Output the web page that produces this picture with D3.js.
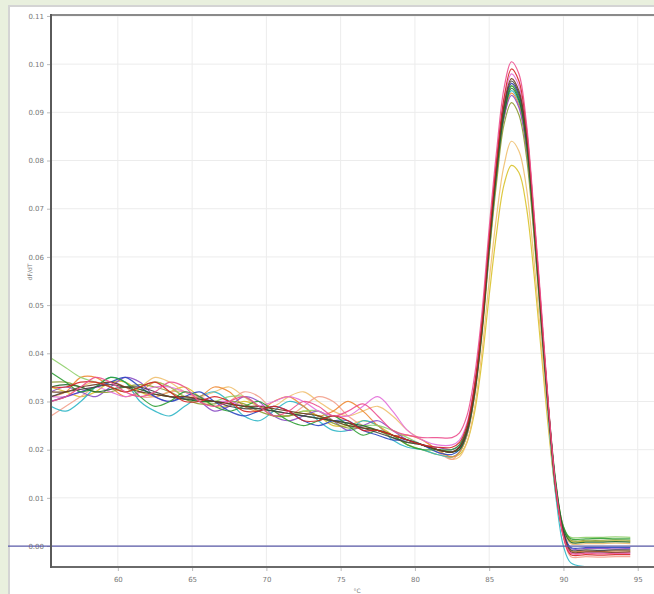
<!DOCTYPE html>
<html>
<head>
<meta charset="utf-8">
<script src="https://cdn.jsdelivr.net/npm/d3@7"></script>
<style>
  body { margin: 0; background: #e9f0de; }
  svg { display: block; }
  .tick text { font-family: "DejaVu Sans", sans-serif; font-size: 7px; fill: #777; }
</style>
</head>
<body>
<svg id="mainChart" width="654" height="594"></svg>
<script>
// temperature points (°C)
var temps = [55.5, 56.5, 57.5, 58.5, 59.5, 60.5, 61.5, 62.5, 63.5, 64.5, 65.5, 66.5, 67.5, 68.5,
  69.5, 70.5, 71.5, 72.5, 73.5, 74.5, 75.5, 76.5, 77.5, 78.5, 79.5, 80.5, 81.5, 82.5,
  83, 83.5, 84, 84.5, 85, 85.5, 86, 86.5, 87, 87.5, 88, 88.5, 89, 89.5, 90, 90.5,
  91.5, 92.5, 93.5, 94.5];

// -dF/dT per sample, in thousandths
var pink = [30, 31, 33, 35, 34, 32, 31, 32, 34, 33, 30, 29, 30, 31, 29, 27, 28, 30, 29, 27, 28, 29.5, 27, 24, 23, 22.5, 22.5, 22.5,
  23.5, 27, 35, 48, 66, 82, 95, 100.5, 98, 88, 70, 50, 29, 12, 2, -1.5, -1.5, -1.6, -1.5, -1.5];
var red = [33, 33, 34, 34, 33, 32, 33, 34, 32, 30, 30, 31, 30, 28, 28, 29, 28, 26, 26, 27, 26, 24, 24, 23, 22, 21, 20.5, 20.5,
  21.5, 25, 33, 46, 64, 80, 93, 99, 96.5, 87, 69, 49, 28.5, 11.5, 2, -1.8, -1.8, -1.9, -1.8, -1.8];
var brown = [32, 32, 33, 33.5, 34, 33, 32, 31.5, 31, 31, 30.5, 30, 29.5, 29, 29, 28.5, 28, 27.5, 27, 26, 25, 24.5, 24, 23, 22, 21, 20, 19.5,
  20.5, 24, 32, 45, 63, 79, 91.5, 97, 94.5, 85.5, 68, 48, 28, 11.5, 2.5, -1.2, -1.2, -1.2, -1.3, -1.2];
var darkGray = [31, 32, 32.5, 33, 33.5, 33, 33, 32, 31, 30.5, 30.5, 30, 29, 28.5, 28.5, 28, 27.5, 27, 26.5, 26, 25.5, 24.5, 23.5, 22.5, 21.5, 21, 20, 19.5,
  20.5, 24, 32, 45, 63, 79, 91, 96.5, 94, 85, 68, 48, 28, 12, 3, -0.8, -0.8, -0.9, -0.8, -0.8];
var blue = [30, 31, 32, 33, 34, 35, 33, 31, 30, 31, 32, 30, 28, 27, 28, 29, 28, 26, 25, 26, 26, 24, 23, 22, 22, 21, 19.5, 19,
  20, 23.5, 31.5, 44.5, 62, 78, 90.5, 96, 93.5, 84.5, 67.5, 47.5, 28, 12, 3, -0.3, -0.3, -0.3, -0.3, -0.3];
var green = [36, 34, 32, 33, 35, 34, 31, 29, 30, 32, 31, 29, 28, 29, 30, 28, 26, 25, 26, 27, 25, 23, 24, 23, 21, 20, 20, 20,
  21, 24.5, 32.5, 45.5, 63, 78.5, 90, 95.5, 93, 84, 67, 47.5, 28.5, 13, 4, 1.5, 1.5, 1.6, 1.5, 1.5];
var darkGreen = [33, 33.5, 33, 32, 32.5, 33, 32.5, 31.5, 31, 30.5, 30, 30, 29.5, 29, 28.5, 28, 27.5, 27, 26.5, 26, 25.5, 25, 24, 23, 22, 21, 20, 19.5,
  20, 23.5, 31.5, 44.5, 62, 77.5, 89.5, 95, 92.5, 84, 67, 47.5, 28, 12.5, 3.5, 0.8, 0.8, 0.8, 0.9, 0.8];
var teal = [29, 28, 30, 33, 35, 34, 30, 28, 27, 29, 31, 32, 30, 27, 26, 28, 30, 29, 26, 24, 24, 26, 25, 22, 20.5, 20, 19, 18.5,
  19.5, 23, 31, 44, 61, 77, 89, 94.5, 92, 83, 66, 46, 26, 10, 0, -3.5, -4.3, -4.4, -4.4, -4.3];
var orange = [31, 32, 35, 35, 33, 31, 32, 34, 33, 31, 31, 33, 32, 29, 28, 30, 31, 29, 27, 28, 30, 28, 25, 23, 23, 22, 20, 18.5,
  19.5, 23, 31, 44, 61, 77, 89, 94, 91.5, 83, 66.5, 47, 27.5, 11.5, 2.5, -1, -1, -1.1, -1, -1];
var purple = [32, 33, 32, 31, 33, 35, 34, 31, 30, 31, 30, 28, 29, 31, 30, 27, 26, 27, 28, 26, 24, 25, 26, 24, 22, 21, 20.5, 20,
  21, 24.5, 32, 44.5, 62, 77, 89, 93.5, 91, 82.5, 66, 46.5, 27.5, 12, 3, -0.5, -0.5, -0.5, -0.6, -0.5];
var olive = [34, 34, 33, 32, 32, 33, 33.5, 33, 32, 30.5, 29.5, 29.5, 30, 29.5, 28, 27, 27, 27.5, 27, 25.5, 24.5, 24.5, 24, 22.5, 21.5, 21, 20, 19.5,
  20.5, 23.5, 31, 43.5, 60.5, 75.5, 87.5, 92, 89.5, 81, 65, 46, 27.5, 12.5, 4, 1.2, 1.2, 1.2, 1.3, 1.2];
var paleOrange = [30, 31, 33, 34, 33, 32, 33, 35, 34, 32, 31, 32, 33, 31, 29, 29, 31, 32, 30, 28, 27, 28, 29, 27, 24, 22, 20, 18,
  18.5, 21.5, 28.5, 40, 55, 68.5, 79, 84, 82, 74.5, 60, 42.5, 25, 11, 3, 0.5, 0.5, 0.5, 0.6, 0.5];
var yellow = [33, 32, 31, 32, 34, 34, 32, 31, 32, 33, 31, 29, 29, 30, 29, 27, 27, 28, 27, 25, 25, 26, 25, 23, 21, 20, 19, 18.5,
  19, 21.5, 27.5, 38, 52, 65, 75, 79, 77.5, 70.5, 57, 40.5, 24, 10.5, 3, 1, 1, 1, 1.1, 1];
var lightGreen = [39, 37, 35, 34, 33, 32, 33, 34, 33, 31, 30, 30, 31, 31, 29, 27, 27, 28, 28, 26, 25, 25, 25, 24, 22.5, 21, 20, 19.5,
  20.5, 24, 32, 45, 62.5, 78, 90, 95.5, 93, 84, 67, 47, 27.5, 12, 3, 1.8, 1.8, 1.8, 1.9, 1.8];
var salmon = [27, 29, 31, 33, 34, 33, 31, 31, 32, 32, 30, 29, 30, 32, 31, 28, 27, 29, 31, 30, 27, 25, 24, 23, 22, 21, 19.5, 18,
  19.5, 23, 31, 44, 62, 78, 90.5, 96, 93.5, 84.5, 67.5, 47.5, 27.5, 11.5, 2, -2.2, -2.2, -2.3, -2.2, -2.2];
var magenta = [31, 31, 32, 33, 32, 31, 32, 33, 33, 32, 31, 30, 30, 29, 29, 30, 31, 30, 28, 27, 27, 29, 31, 28, 24, 22, 21, 21,
  22, 25.5, 33.5, 46.5, 64, 80, 92.5, 98, 95.5, 86.5, 69, 49, 28.5, 12, 2.5, -1.4, -1.4, -1.4, -1.5, -1.4];

var samples = [
  { name: "yellow", color: "#d9c22a", values: yellow },
  { name: "paleOrange", color: "#f0c070", values: paleOrange },
  { name: "salmon", color: "#f3a08c", values: salmon },
  { name: "teal", color: "#2fb6c6", values: teal },
  { name: "orange", color: "#ee8a34", values: orange },
  { name: "purple", color: "#8a4cc4", values: purple },
  { name: "lightGreen", color: "#8fcf6a", values: lightGreen },
  { name: "olive", color: "#8d9b33", values: olive },
  { name: "magenta", color: "#e36fd9", values: magenta },
  { name: "blue", color: "#2a48c2", values: blue },
  { name: "green", color: "#2f9e35", values: green },
  { name: "darkGreen", color: "#1f6a2c", values: darkGreen },
  { name: "darkGray", color: "#444444", values: darkGray },
  { name: "brown", color: "#6e3b1f", values: brown },
  { name: "red", color: "#d42424", values: red },
  { name: "pink", color: "#ec4f8e", values: pink }
];

var xTicks = [60, 65, 70, 75, 80, 85, 90, 95];
var yTicks = [0, 10, 20, 30, 40, 50, 60, 70, 80, 90, 100, 110];

function drawMeltChart() {
  var svg = d3.select("#mainChart"),
    width = +svg.attr("width"),
    height = +svg.attr("height");

  var plotLeft = 51, plotTop = 15, plotBottom = 567, plotRight = 660;

  // white panel
  svg.append("rect")
    .attr("x", 9).attr("y", 6)
    .attr("width", width).attr("height", height)
    .attr("fill", "#ffffff")
    .attr("stroke", "#d4d4d4")
    .attr("stroke-width", 2);

  svg.append("clipPath")
    .attr("id", "plotClip")
    .append("rect")
    .attr("x", plotLeft).attr("y", plotTop)
    .attr("width", plotRight - plotLeft).attr("height", plotBottom - plotTop);

  var x = d3.scaleLinear().domain([55.5, 96.5]).range([plotLeft, plotRight]);
  var y = d3.scaleLinear().domain([-4.35, 110.2]).range([plotBottom, plotTop]);

  // grid
  svg.append("g")
    .selectAll("line")
    .data(xTicks)
    .enter()
    .append("line")
    .attr("x1", function(d) { return x(d); })
    .attr("x2", function(d) { return x(d); })
    .attr("y1", plotTop).attr("y2", plotBottom)
    .attr("stroke", "#ececec");
  svg.append("g")
    .selectAll("line")
    .data(yTicks)
    .enter()
    .append("line")
    .attr("x1", plotLeft).attr("x2", plotRight)
    .attr("y1", function(d) { return y(d); })
    .attr("y2", function(d) { return y(d); })
    .attr("stroke", "#ececec");

  // axes
  var yAxis = svg.append("g")
    .attr("transform", "translate(" + plotLeft + ",0)")
    .call(d3.axisLeft(y).tickValues(yTicks).tickSize(4).tickPadding(3)
      .tickFormat(function(d) { return d3.format(".2f")(d / 1000); }));
  var xAxis = svg.append("g")
    .attr("transform", "translate(0," + plotBottom + ")")
    .call(d3.axisBottom(x).tickValues(xTicks).tickSize(4).tickPadding(6));
  yAxis.select(".domain").remove();
  xAxis.select(".domain").remove();
  svg.selectAll(".tick line").attr("stroke", "#bbbbbb");

  // curves
  var line = d3.line()
    .x(function(d, i) { return x(temps[i]); })
    .y(function(d) { return y(d); })
    .curve(d3.curveCatmullRom.alpha(0.5));

  svg.append("g")
    .attr("clip-path", "url(#plotClip)")
    .selectAll("path")
    .data(samples)
    .enter()
    .append("path")
    .attr("d", function(d) { return line(d.values); })
    .attr("fill", "none")
    .attr("stroke", function(d) { return d.color; })
    .attr("stroke-width", 1.2)
    .attr("opacity", 0.9);

  // zero threshold line
  svg.append("line")
    .attr("x1", 8).attr("x2", width)
    .attr("y1", y(0)).attr("y2", y(0))
    .attr("stroke", "#5a5aa8")
    .attr("stroke-width", 1.2);

  // frame
  svg.append("line")
    .attr("x1", plotLeft).attr("x2", plotRight)
    .attr("y1", plotTop).attr("y2", plotTop)
    .attr("stroke", "#8a8a8a").attr("stroke-width", 2);
  svg.append("line")
    .attr("x1", plotLeft).attr("x2", plotRight)
    .attr("y1", plotBottom).attr("y2", plotBottom)
    .attr("stroke", "#6a6a6a").attr("stroke-width", 2);
  svg.append("line")
    .attr("x1", plotLeft).attr("x2", plotLeft)
    .attr("y1", plotTop - 1).attr("y2", plotBottom + 1)
    .attr("stroke", "#5a5a5a").attr("stroke-width", 2);

  // axis titles
  svg.append("text")
    .attr("transform", "translate(32,272) rotate(-90)")
    .attr("text-anchor", "middle")
    .attr("font-family", "DejaVu Sans, sans-serif")
    .attr("font-size", 6)
    .attr("fill", "#777")
    .text("dF/dT");
  svg.append("text")
    .attr("x", 357).attr("y", 593)
    .attr("text-anchor", "middle")
    .attr("font-family", "DejaVu Sans, sans-serif")
    .attr("font-size", 6)
    .attr("fill", "#777")
    .text("°C");
}

drawMeltChart();
</script>
</body>
</html>
